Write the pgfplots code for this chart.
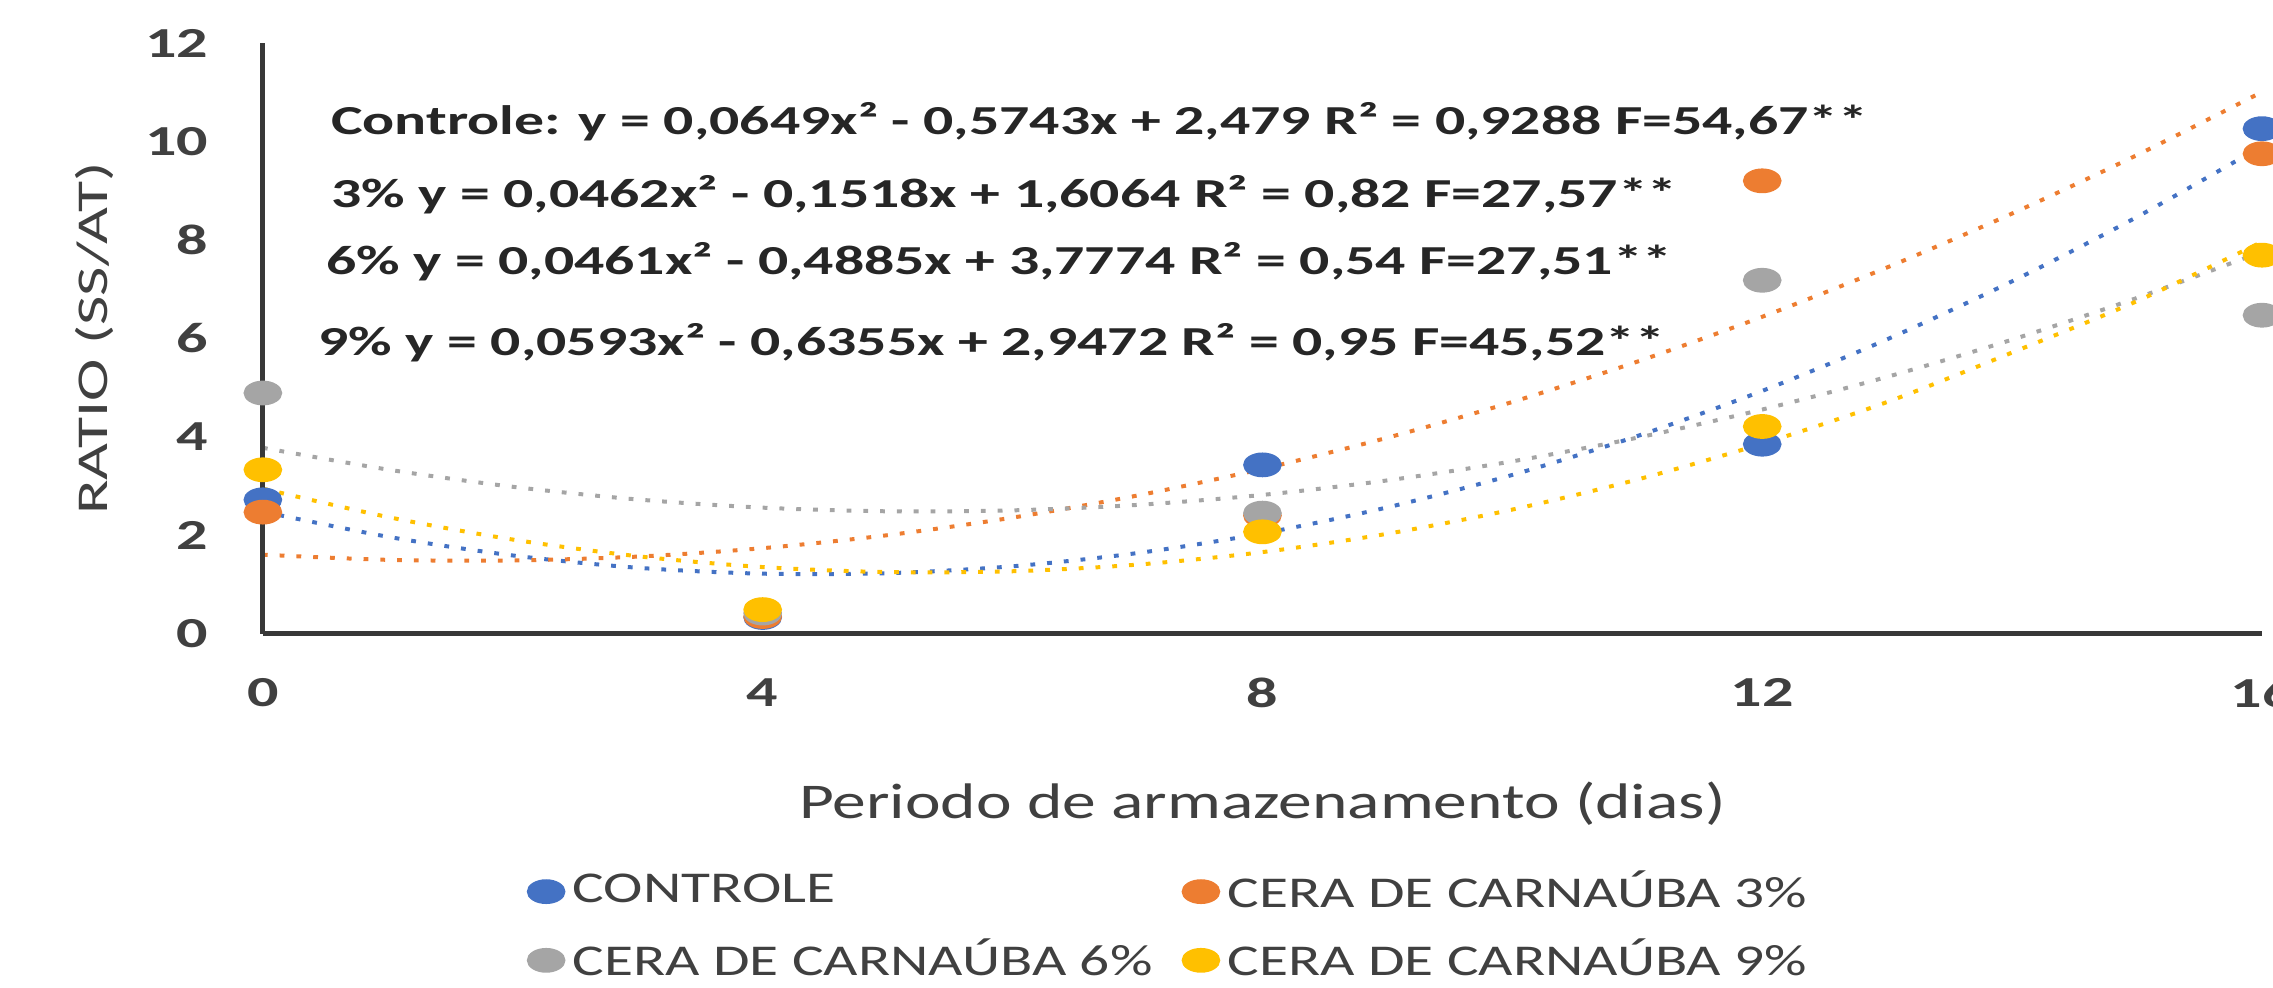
\documentclass[border=0pt]{standalone}
\usepackage{fontspec}
\setmainfont{Carlito}[FakeStretch=1.45]
\newfontfamily\legfont{Carlito}[FakeStretch=1.35]
\usepackage{pgfplots}
\pgfplotsset{compat=1.18}
\definecolor{cblue}{HTML}{4472C4}
\definecolor{corange}{HTML}{ED7D31}
\definecolor{cgray}{HTML}{A5A5A5}
\definecolor{cyellow}{HTML}{FFC000}
\definecolor{txt}{HTML}{404040}
\definecolor{eqc}{HTML}{262626}
\begin{document}
\begin{tikzpicture}
\begin{axis}[
  scale only axis, width=500pt, height=147.75pt,
  xmin=0, xmax=16, ymin=0, ymax=12,
  axis x line=bottom, axis y line=left,
  axis on top,
  axis line style={-, draw=black!78, line width=1.2pt},
  xtick={0,4,8,12,16}, ytick={0,2,4,6,8,10,12},
  major tick length=0pt,
  /pgf/number format/assume math mode=true,
  ticklabel style={font=\fontsize{10.7}{12}\selectfont\bfseries, text=txt},
  xticklabel style={anchor=center, inner sep=0pt, yshift=-14.75pt},
  yticklabel style={anchor=east, inner sep=0pt, xshift=-13.5pt},
  xlabel={Periodo de armazenamento (dias)},
  xlabel style={at={(axis description cs:0.5,-0.288)}, anchor=center, inner sep=0pt, font=\legfont\fontsize{12.5}{14}\selectfont, text=txt},
  ylabel={RATIO (SS/AT)},
  ylabel style={at={(axis description cs:-0.084,0.5)}, anchor=center, inner sep=0pt, font=\fontsize{11}{13}\selectfont, text=txt},
  legend columns=2,
  legend cell align=left,
  legend style={draw=none, fill=none, at={(axis description cs:0.126,-0.372)}, anchor=north west,
    font=\legfont\fontsize{11}{13}\selectfont, text=txt, row sep=2.5pt,
    /tikz/every even column/.append style={column sep=5.5pt}},
  mark size=2.9pt,
]
\addplot[only marks, mark=*, color=cblue, mark options={xscale=1.6}] coordinates {(0,2.72) (4,0.33) (8,3.43) (12,3.85) (16,10.26)};
\addlegendentry{CONTROLE}
\addplot[only marks, mark=*, color=corange, mark options={xscale=1.6}] coordinates {(0,2.47) (4,0.35) (8,2.40) (12,9.20) (16,9.75)};
\addlegendentry{CERA DE CARNAÚBA 3\%}
\addplot[only marks, mark=*, color=cgray, mark options={xscale=1.6}] coordinates {(0,4.89) (4,0.42) (8,2.45) (12,7.18) (16,6.47)};
\addlegendentry{CERA DE CARNAÚBA 6\%}
\addplot[only marks, mark=*, color=cyellow, mark options={xscale=1.6}] coordinates {(0,3.33) (4,0.49) (8,2.07) (12,4.21) (16,7.69)};
\addlegendentry{CERA DE CARNAÚBA 9\%}
% trend lines (values of the printed equations)
\addplot[forget plot, smooth, no marks, cblue, line width=1pt, dash pattern=on 1.2pt off 3pt] coordinates {
(0,2.479) (1,1.970) (2,1.590) (3,1.340) (4,1.220) (5,1.230) (6,1.370) (7,1.639) (8,2.038)
(9,2.567) (10,3.226) (11,4.015) (12,4.933) (13,5.981) (14,7.159) (15,8.467) (16,9.905)};
\addplot[forget plot, smooth, no marks, corange, line width=1pt, dash pattern=on 1.2pt off 3pt] coordinates {
(0,1.606) (1,1.501) (2,1.488) (3,1.567) (4,1.738) (5,2.002) (6,2.359) (7,2.808) (8,3.349)
(9,3.982) (10,4.708) (11,5.527) (12,6.438) (13,7.441) (14,8.536) (15,9.724) (16,11.005)};
\addplot[forget plot, smooth, no marks, cgray, line width=1pt, dash pattern=on 1.2pt off 3pt] coordinates {
(0,3.777) (1,3.335) (2,2.985) (3,2.727) (4,2.561) (5,2.487) (6,2.506) (7,2.617) (8,2.820)
(9,3.115) (10,3.502) (11,3.982) (12,4.554) (13,5.218) (14,5.974) (15,6.822) (16,7.763)};
\addplot[forget plot, smooth, no marks, cyellow, line width=1pt, dash pattern=on 1.2pt off 3pt] coordinates {
(0,2.947) (1,2.371) (2,1.913) (3,1.574) (4,1.354) (5,1.252) (6,1.269) (7,1.404) (8,1.658)
(9,2.031) (10,2.522) (11,3.132) (12,3.860) (13,4.707) (14,5.712) (15,6.757) (16,7.960)};
\node[anchor=west, inner sep=0pt, text=eqc, font=\fontsize{10.3}{12}\selectfont\bfseries] at (axis cs:0.54,10.41) {Controle: y = 0,0649x² - 0,5743x + 2,479 R² = 0,9288 F=54,67**};
\node[anchor=west, inner sep=0pt, text=eqc, font=\fontsize{10.3}{12}\selectfont\bfseries] at (axis cs:0.54,8.91) {3\% y = 0,0462x² - 0,1518x + 1,6064 R² = 0,82 F=27,57**};
\node[anchor=west, inner sep=0pt, text=eqc, font=\fontsize{10.3}{12}\selectfont\bfseries] at (axis cs:0.50,7.55) {6\% y = 0,0461x² - 0,4885x + 3,7774 R² = 0,54 F=27,51**};
\node[anchor=west, inner sep=0pt, text=eqc, font=\fontsize{10.3}{12}\selectfont\bfseries] at (axis cs:0.44,5.91) {9\% y = 0,0593x² - 0,6355x + 2,9472 R² = 0,95 F=45,52**};
\end{axis}
\pgfresetboundingbox
\useasboundingbox (-65.75pt,-88.5pt) rectangle (502.75pt,158.5pt);
\end{tikzpicture}
\end{document}
